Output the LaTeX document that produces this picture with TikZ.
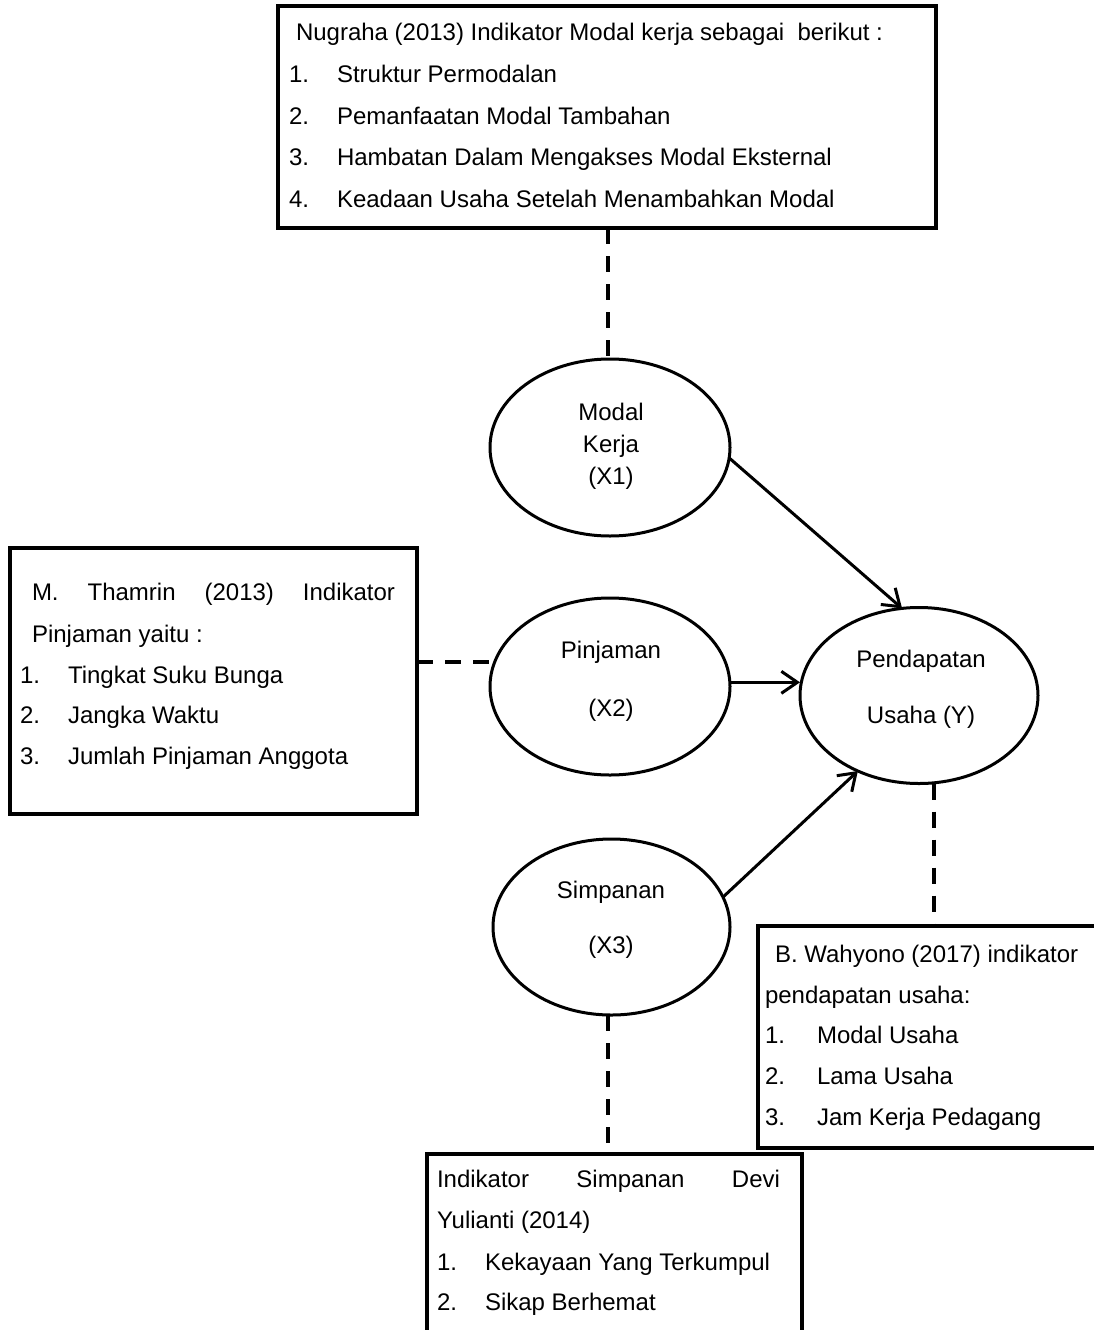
\documentclass[tikz,border=0pt]{standalone}
\usepackage{fontspec}
\setmainfont{Liberation Sans}
\usetikzlibrary{shapes.geometric,arrows.meta}
\tikzset{
  txt/.style={inner sep=0pt, outer sep=0pt, anchor=base west, font=\fontsize{24}{28}\selectfont},
  ctxt/.style={inner sep=0pt, outer sep=0pt, anchor=base, font=\fontsize{24}{28}\selectfont},
  infobox/.style={draw, line width=3.5pt, inner sep=0pt, outer sep=0pt},
  var/.style={draw, ellipse, line width=3pt, inner sep=0pt, outer sep=0pt, minimum width=240pt, minimum height=177pt},
  link/.style={line width=3pt, -{Straight Barb[length=16pt,width=22pt]}},
  dline/.style={line width=4pt, dash pattern=on 16pt off 12pt},
}
\begin{document}
\begin{tikzpicture}[x=1pt,y=-1pt]
\useasboundingbox (0,0) rectangle (1094,1330);
\clip (0,0) rectangle (1094,1330);

% boxes
\node[infobox, minimum width=658pt, minimum height=222pt] (tb) at (607,117) {};
\node[infobox, minimum width=407pt, minimum height=266pt] (tl) at (213.5,681) {};
\node[infobox, minimum width=346pt, minimum height=222pt] (wb) at (931,1037) {};
\node[infobox, minimum width=375pt, minimum height=191pt] (sb) at (614.5,1249.5) {};

% ellipses
\node[var] (mk) at (610,447.5) {};
\node[var] (pj) at (610,686.5) {};
\node[var, minimum width=238pt, minimum height=176pt] (pu) at (919,695.5) {};
\node[var, minimum width=237pt, minimum height=176pt] (sp) at (611.5,927) {};

% ellipse texts
\node[ctxt] (mk1) at (611,420) {Modal};
\node[ctxt] (mk2) at (611,452) {Kerja};
\node[ctxt] (mk3) at (611,484) {(X1)};
\node[ctxt] (pj1) at (611,658) {Pinjaman};
\node[ctxt] (pj2) at (611,716) {(X2)};
\node[ctxt] (pu1) at (921,667) {Pendapatan};
\node[ctxt] (pu2) at (921,723) {Usaha (Y)};
\node[ctxt] (sp1) at (611,898) {Simpanan};
\node[ctxt] (sp2) at (611,953) {(X3)};

% top box text
\node[txt] (t0) at (296,41) {Nugraha (2013) Indikator Modal kerja sebagai~ berikut :};
\node[txt] (t1n) at (289,82.5) {1.};
\node[txt] (t1) at (337,82.5) {Struktur Permodalan};
\node[txt] (t2n) at (289,124) {2.};
\node[txt] (t2) at (337,124) {Pemanfaatan Modal Tambahan};
\node[txt] (t3n) at (289,165.5) {3.};
\node[txt] (t3) at (337,165.5) {Hambatan Dalam Mengakses Modal Eksternal};
\node[txt] (t4n) at (289,207) {4.};
\node[txt] (t4) at (337,207) {Keadaan Usaha Setelah Menambahkan Modal};

% left box text
\node[txt] (l0) at (32,600) {\makebox[363pt][s]{M. Thamrin (2013) Indikator}};
\node[txt] (l0b) at (32,642) {Pinjaman yaitu :};
\node[txt] (l1n) at (20,683) {1.};
\node[txt] (l1) at (68,683) {Tingkat Suku Bunga};
\node[txt] (l2n) at (20,723) {2.};
\node[txt] (l2) at (68,723) {Jangka Waktu};
\node[txt] (l3n) at (20,764) {3.};
\node[txt] (l3) at (68,764) {Jumlah Pinjaman Anggota};

% Wahyono box text
\node[txt] (w0) at (775,962) {B. Wahyono (2017) indikator};
\node[txt] (w0b) at (765,1003) {pendapatan usaha:};
\node[txt] (w1n) at (765,1043) {1.};
\node[txt] (w1) at (817,1043) {Modal Usaha};
\node[txt] (w2n) at (765,1084) {2.};
\node[txt] (w2) at (817,1084) {Lama Usaha};
\node[txt] (w3n) at (765,1125) {3.};
\node[txt] (w3) at (817,1125) {Jam Kerja Pedagang};

% Simpanan box text
\node[txt] (s0) at (437,1187) {\makebox[343pt][s]{Indikator Simpanan Devi}};
\node[txt] (s0b) at (437,1228) {Yulianti (2014)};
\node[txt] (s1n) at (437,1270) {1.};
\node[txt] (s1) at (485,1270) {Kekayaan Yang Terkumpul};
\node[txt] (s2n) at (437,1310) {2.};
\node[txt] (s2) at (485,1310) {Sikap Berhemat};

% arrows
\draw[link] (mk.-5) -- (pu.101);
\draw[link] (pj.2) -- (pj.2 -| pu.west);
\draw[link] (sp.15) -- (pu.231);

% dashed links
\coordinate (c1) at (608,0);
\coordinate (c3) at (934,0);
\draw[dline] (tb.south -| c1) -- (c1 |- mk.north);
\draw[dline] (tl.east |- pj.168.5) -- (pj.168.5);
\draw[dline] (c3 |- pu.south) -- (c3 |- wb.north);
\draw[dline] (c1 |- sp.south) -- (c1 |- sb.north);
\end{tikzpicture}
\end{document}
